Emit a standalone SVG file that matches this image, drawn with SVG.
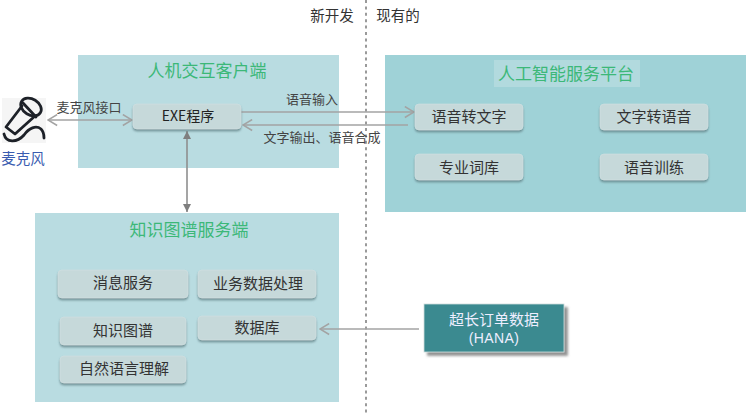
<svg xmlns="http://www.w3.org/2000/svg" width="748" height="414" viewBox="0 0 748 414">
<style>
text{font-family:"Noto Sans CJK SC","Liberation Sans",sans-serif;text-anchor:middle}
.panel{fill:#b9dce1}
.panelB{fill:#9fd2d7}
.title{fill:#3cb878;font-size:17px}
.box{fill:#c6d9da;stroke:#d3e1e2;stroke-width:.6;filter:url(#sh)}
.lbl{fill:#333;font-size:15px}
.cap{fill:#444;font-size:13px}
.head{fill:#333;font-size:14.5px}
.con{stroke:#a3a3a3;stroke-width:1.6;fill:none}
.open{marker-end:url(#open)}
.both{marker-start:url(#openS);marker-end:url(#open)}
.solid{stroke:#8f8f8f;marker-start:url(#solidS);marker-end:url(#solid)}
</style>
<defs>
<filter id="sh" x="-10%" y="-20%" width="120%" height="150%"><feDropShadow dx="0" dy="2" stdDeviation="0.8" flood-color="#5f7f84" flood-opacity=".8"/></filter>
<filter id="shH" x="-10%" y="-10%" width="120%" height="130%"><feDropShadow dx="3.5" dy="3.5" stdDeviation="0.8" flood-color="#777" flood-opacity=".8"/></filter>
<marker id="open" viewBox="0 0 12 14" refX="11" refY="7" markerWidth="11" markerHeight="13" markerUnits="userSpaceOnUse" orient="auto"><path d="M1 1L11 7L1 13" fill="none" stroke="#a3a3a3" stroke-width="1.6"/></marker>
<marker id="openS" viewBox="0 0 12 14" refX="1" refY="7" markerWidth="11" markerHeight="13" markerUnits="userSpaceOnUse" orient="auto"><path d="M11 1L1 7L11 13" fill="none" stroke="#a3a3a3" stroke-width="1.6"/></marker>
<marker id="solid" viewBox="0 0 8 8" refX="8" refY="4" markerWidth="8" markerHeight="8" markerUnits="userSpaceOnUse" orient="auto"><path d="M0 0L8 4L0 8Z" fill="#7f7f7f"/></marker>
<marker id="solidS" viewBox="0 0 8 8" refX="0" refY="4" markerWidth="8" markerHeight="8" markerUnits="userSpaceOnUse" orient="auto"><path d="M8 0L0 4L8 8Z" fill="#7f7f7f"/></marker>
</defs>
<rect width="748" height="414" fill="#fff"/>
<path d="M366 0V414" stroke="#9a9a9a" stroke-width="2" stroke-dasharray="3 3.4" fill="none"/>
<text class="head" x="332" y="21">新开发</text>
<text class="head" x="398" y="21">现有的</text>
<g id="panel-client"><rect class="panel" x="78" y="55" width="261" height="113"/><text class="title" x="207" y="77">人机交互客户端</text></g>
<g id="panel-ai"><rect class="panelB" x="385" y="55" width="361" height="157"/><rect x="494" y="60" width="146" height="27" fill="#b2dade"/><text class="title" x="566" y="80">人工智能服务平台</text></g>
<g id="panel-kg"><rect class="panel" x="35" y="213" width="304" height="189"/><text class="title" x="189" y="236">知识图谱服务端</text></g>
<g id="connectors">
<path class="con both" d="M48 120H132"/>
<path class="con open" d="M241 112H414"/>
<path class="con open" d="M408 125H243"/>
<path class="con solid" d="M187 131V212"/>
<path class="con open" d="M419 329H320"/>
</g>
<g id="mic">
<rect x="2" y="98" width="44" height="45" fill="#f5f5f5"/>
<g fill="none" stroke="#1d2128" stroke-width="2.8" stroke-linecap="round" stroke-linejoin="round">
<ellipse cx="31" cy="107" rx="11" ry="8" transform="rotate(32 31 107)"/>
<path d="M23 103L36 117"/>
<path d="M22 106L6 127L15 134L35 116"/>
<path d="M4 134C6 143 17 143 24 135C29 128 36 125 41 129C44 132 44 136 44 138"/>
</g>
<text x="23" y="164" font-size="14.5" fill="#3a5cb0">麦克风</text>
</g>
<g id="mic-interface"><text class="cap" x="89" y="112">麦克风接口</text></g>
<g id="speech-in"><text class="cap" x="312" y="104">语音输入</text></g>
<g id="text-out"><text class="cap" x="322" y="142">文字输出、语音合成</text></g>
<g id="exe"><rect class="box" x="133" y="104" width="108" height="25" rx="4"/><text x="188" y="121" font-size="14" fill="#222">EXE程序</text></g>
<g id="stt"><rect class="box" x="415" y="104" width="108" height="26" rx="4"/><text class="lbl" x="469" y="122">语音转文字</text></g>
<g id="tts"><rect class="box" x="600" y="104" width="108" height="26" rx="4"/><text class="lbl" x="654" y="122">文字转语音</text></g>
<g id="lexicon"><rect class="box" x="415" y="154" width="108" height="26" rx="4"/><text class="lbl" x="469" y="173">专业词库</text></g>
<g id="training"><rect class="box" x="600" y="154" width="108" height="26" rx="4"/><text class="lbl" x="654" y="173">语音训练</text></g>
<g id="msg"><rect class="box" x="58" y="270" width="130" height="28" rx="4"/><text class="lbl" x="123" y="288">消息服务</text></g>
<g id="biz"><rect class="box" x="198" y="270" width="118" height="28" rx="4"/><text class="lbl" x="258" y="289">业务数据处理</text></g>
<g id="kg"><rect class="box" x="60" y="317" width="126" height="28" rx="4"/><text class="lbl" x="123" y="336">知识图谱</text></g>
<g id="db"><rect class="box" x="198" y="316" width="118" height="24" rx="4"/><text class="lbl" x="257" y="333">数据库</text></g>
<g id="nlp"><rect class="box" x="60" y="356" width="126" height="27" rx="4"/><text class="lbl" x="124" y="374">自然语言理解</text></g>
<g id="hana"><rect x="424" y="304" width="140" height="48" fill="#3a8a90" stroke="#cfdcdc" stroke-width=".8" filter="url(#shH)"/><text x="494" y="325" font-size="15" fill="#eef">超长订单数据</text><text x="494" y="343" font-size="14" letter-spacing=".4" fill="#eef" style="font-family:'Liberation Sans',sans-serif">(HANA)</text></g>
</svg>
